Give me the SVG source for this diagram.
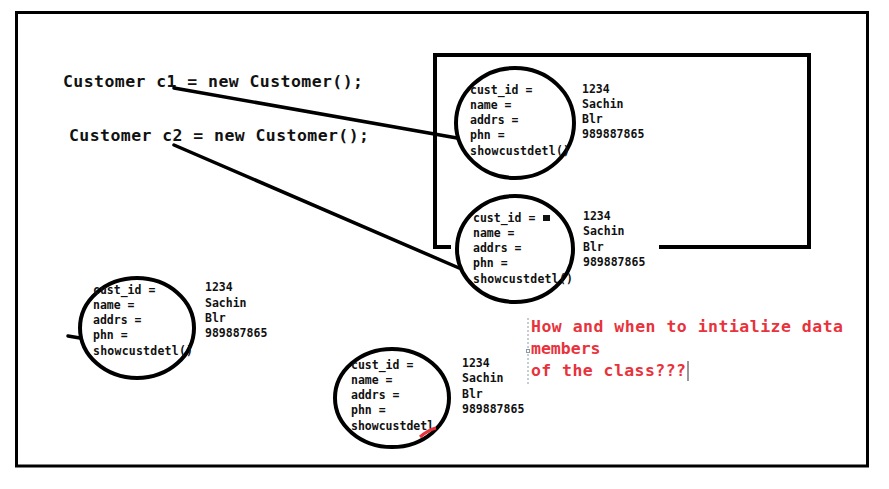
<svg xmlns="http://www.w3.org/2000/svg" width="889" height="489" viewBox="0 0 889 489">
<style>
.code{font-family:"DejaVu Sans Mono","Liberation Mono",monospace;font-weight:bold;font-size:16.5px;fill:#111}
.f{font-family:"DejaVu Sans Mono","Liberation Mono",monospace;font-weight:bold;font-size:11.5px;fill:#111}
.red{font-family:"DejaVu Sans Mono","Liberation Mono",monospace;font-weight:bold;font-size:16.5px;fill:#e8323c}
.obj{fill:none;stroke:#000;stroke-width:4}
.con{fill:none;stroke:#000;stroke-width:3.5;stroke-linecap:round}
</style>
<rect x="0" y="0" width="889" height="489" fill="#fff"/>
<rect x="16.5" y="12.5" width="851" height="453.5" fill="none" stroke="#000" stroke-width="3"/>
<g id="heap">
<path d="M451,247 H435 V55 H809 V247 H659" fill="none" stroke="#000" stroke-width="4"/>
</g>
<g id="code">
<text class="code" x="63" y="87" textLength="300">Customer c1 = new Customer();</text>
<text class="code" x="69" y="141" textLength="300">Customer c2 = new Customer();</text>
</g>
<g id="connectors">
<line class="con" x1="174" y1="88" x2="457" y2="138"/>
<line class="con" x1="174" y1="145" x2="459" y2="268"/>
<line class="con" x1="68" y1="336" x2="80" y2="338"/>
</g>
<g id="obj1">
<ellipse class="obj" cx="515" cy="123" rx="59" ry="55"/>
<text class="f" x="470" y="94">cust_id =</text>
<text class="f" x="470" y="109">name =</text>
<text class="f" x="470" y="124">addrs =</text>
<text class="f" x="470" y="139">phn =</text>
<text class="f" x="470" y="155" textLength="100">showcustdetl()</text>
<text class="f" x="582" y="93">1234</text>
<text class="f" x="582" y="108">Sachin</text>
<text class="f" x="582" y="123">Blr</text>
<text class="f" x="582" y="138">989887865</text>
</g>
<g id="obj2">
<ellipse class="obj" cx="515" cy="249" rx="58" ry="53"/>
<text class="f" x="473" y="222">cust_id =</text>
<rect x="543" y="215" width="7" height="6" fill="#111"/>
<text class="f" x="473" y="237">name =</text>
<text class="f" x="473" y="252">addrs =</text>
<text class="f" x="473" y="267">phn =</text>
<text class="f" x="473" y="283" textLength="100">showcustdetl()</text>
<text class="f" x="583" y="220">1234</text>
<text class="f" x="583" y="235">Sachin</text>
<text class="f" x="583" y="251">Blr</text>
<text class="f" x="583" y="266">989887865</text>
</g>
<g id="obj3">
<ellipse class="obj" cx="137" cy="328" rx="57" ry="50"/>
<text class="f" x="93" y="294">cust_id =</text>
<text class="f" x="93" y="309">name =</text>
<text class="f" x="93" y="324">addrs =</text>
<text class="f" x="93" y="339">phn =</text>
<text class="f" x="93" y="355" textLength="100">showcustdetl()</text>
<text class="f" x="205" y="291">1234</text>
<text class="f" x="205" y="307">Sachin</text>
<text class="f" x="205" y="322">Blr</text>
<text class="f" x="205" y="337">989887865</text>
</g>
<g id="obj4">
<ellipse class="obj" cx="392" cy="398" rx="57" ry="49"/>
<text class="f" x="351" y="369">cust_id =</text>
<text class="f" x="351" y="384">name =</text>
<text class="f" x="351" y="399">addrs =</text>
<text class="f" x="351" y="414">phn =</text>
<text class="f" x="351" y="430">showcustdetl</text>
<path d="M420,437 Q428,430 436,428" fill="none" stroke="#e8323c" stroke-width="3"/>
<text class="f" x="462" y="367">1234</text>
<text class="f" x="462" y="382">Sachin</text>
<text class="f" x="462" y="398">Blr</text>
<text class="f" x="462" y="413">989887865</text>
</g>
<g id="question">
<line x1="528" y1="318" x2="528" y2="386" stroke="#8a9ab0" stroke-width="1" stroke-dasharray="2,2"/>
<rect x="526.5" y="349.5" width="3" height="3" fill="#fff" stroke="#8a9ab0" stroke-width="1"/>
<text class="red" x="531" y="332" textLength="312">How and when to intialize data</text>
<text class="red" x="531" y="354">members</text>
<text class="red" x="531" y="376" textLength="155">of the class???</text>
<line x1="688" y1="361" x2="688" y2="381" stroke="#555" stroke-width="1.2"/>
</g>
</svg>
